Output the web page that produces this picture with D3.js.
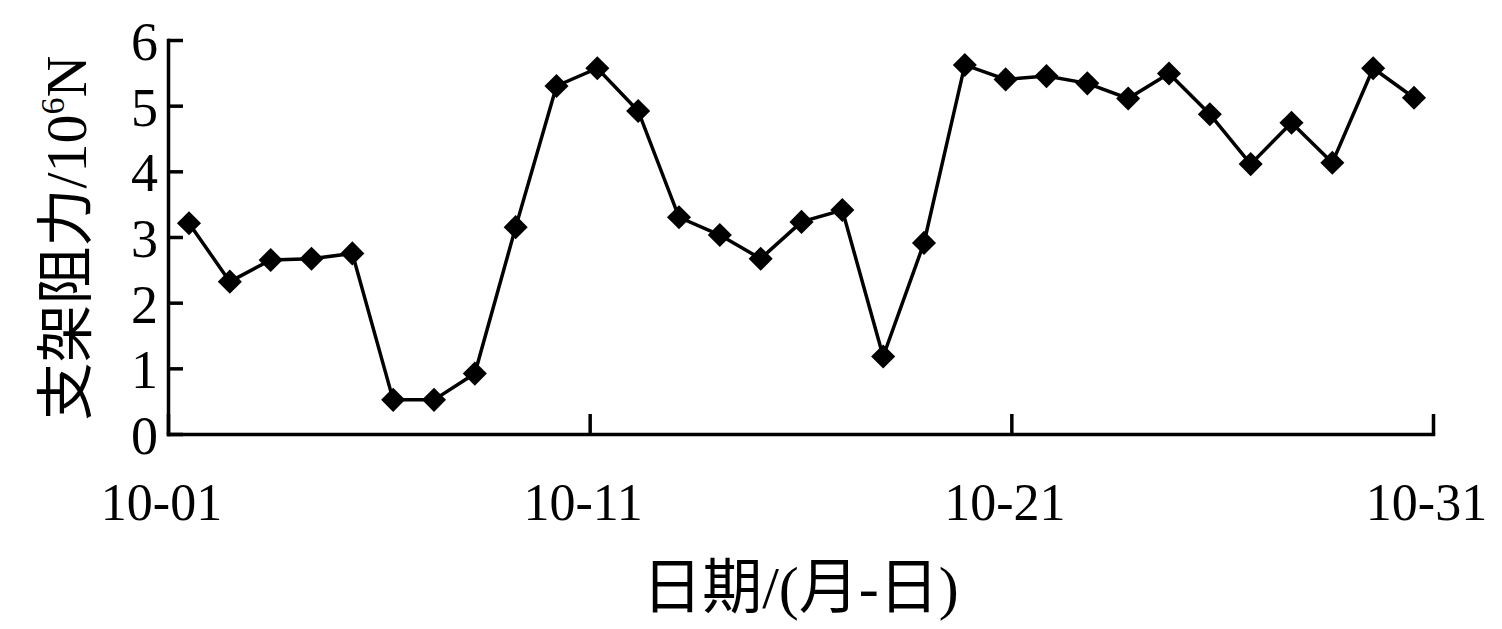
<!DOCTYPE html>
<html>
<head>
<meta charset="utf-8">
<script src="https://cdn.jsdelivr.net/npm/d3@7"></script>
<style>
  body { margin: 0; background: #fff; }
  text { font-family: "Liberation Serif", "Noto Sans CJK SC", serif; fill: #000; }
</style>
</head>
<body>
<div id="root"></div>
<script>
const WIDTH = 1502;
const HEIGHT = 629;

// dates of each reading (October)
const dates = ["10-01", "10-02", "10-03", "10-04", "10-05", "10-06", "10-07", "10-08",
    "10-09", "10-10", "10-11", "10-12", "10-13", "10-14", "10-15", "10-16", "10-17",
    "10-18", "10-19", "10-20", "10-21", "10-22", "10-23", "10-24", "10-25", "10-26",
    "10-27", "10-28", "10-29", "10-30", "10-31"];

// support resistance, 10^6 N
const resistance = [3.21, 2.32, 2.65, 2.67, 2.75, 0.52, 0.52, 0.92, 3.15, 5.30, 5.57,
    4.92, 3.30, 3.03, 2.67, 3.23, 3.41, 1.18, 2.91, 5.62, 5.40, 5.45, 5.34, 5.11, 5.49,
    4.87, 4.11, 4.74, 4.13, 5.57, 5.12];

const xTickLabels = ["10-01", "10-11", "10-21", "10-31"];
const yTicks = [0, 1, 2, 3, 4, 5, 6];

const data = dates.map((d, i) => ({date: d, value: resistance[i]}));

// axis runs from 10-01 to 10-31, points sit slightly inside it
const xAxisScale = d3.scalePoint()
    .domain(dates)
    .range([168, 1433]);

const xScale = d3.scalePoint()
    .domain(dates)
    .range([189, 1414]);

const yScale = d3.scaleLinear()
    .domain([0, 6])
    .range([434, 40]);

const svg = d3.select("#root")
    .append("svg")
    .attr("width", WIDTH)
    .attr("height", HEIGHT);

// x axis, ticks pointing inward
const xAxis = d3.axisBottom(xAxisScale)
    .tickValues(xTickLabels)
    .tickSizeInner(-20)
    .tickSizeOuter(0)
    .tickPadding(0);

const gx = svg.append("g")
    .attr("transform", `translate(0, ${yScale(0)})`)
    .call(xAxis);

// y axis
const yAxis = d3.axisLeft(yScale)
    .tickValues(yTicks)
    .tickFormat(d3.format("d"))
    .tickSizeInner(-15)
    .tickSizeOuter(0)
    .tickPadding(0);

const gy = svg.append("g")
    .attr("transform", `translate(${xAxisScale("10-01")}, 0)`)
    .call(yAxis);

[gx, gy].forEach(g => {
    g.select(".domain").attr("stroke", "#000").attr("stroke-width", 3.5)
        .attr("stroke-linecap", "square");
    g.selectAll(".tick line").attr("stroke", "#000").attr("stroke-width", 3.5);
});

gx.selectAll(".tick text")
    .attr("y", 86)
    .attr("dy", 0)
    .attr("dx", -7)
    .style("font-size", "52px");

gy.selectAll(".tick text")
    .attr("x", -10)
    .attr("dy", "0.36em")
    .style("font-size", "54px");

// series line
const line = d3.line()
    .x(d => xScale(d.date))
    .y(d => yScale(d.value));

svg.append("path")
    .datum(data)
    .attr("fill", "none")
    .attr("stroke", "#000")
    .attr("stroke-width", 3.5)
    .attr("d", line);

// diamond markers
const diamond = d3.symbol().type(d3.symbolSquare).size(290);

svg.selectAll(".point")
    .data(data)
    .enter()
    .append("path")
    .attr("class", "point")
    .attr("d", diamond)
    .attr("fill", "#000")
    .attr("transform", d => `translate(${xScale(d.date)}, ${yScale(d.value)}) rotate(45)`);

// axis titles
svg.append("text")
    .attr("x", (xAxisScale.range()[0] + xAxisScale.range()[1]) / 2)
    .attr("y", 608)
    .attr("text-anchor", "middle")
    .style("font-size", "60px")
    .text("日期/(月-日)");

const yTitle = svg.append("text")
    .attr("transform", "translate(86, 238) rotate(-90)")
    .attr("text-anchor", "middle")
    .style("font-size", "58px");

yTitle.append("tspan").text("支架阻力/10");
yTitle.append("tspan")
    .attr("dy", -22)
    .style("font-size", "34px")
    .text("6");
yTitle.append("tspan")
    .attr("dy", 22)
    .text("N");
</script>
</body>
</html>
